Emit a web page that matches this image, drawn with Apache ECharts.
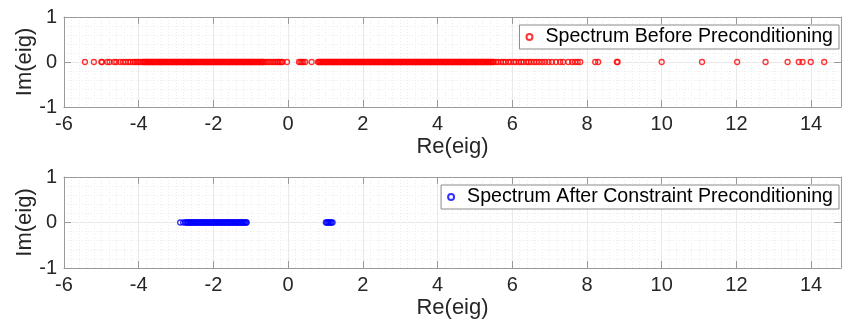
<!DOCTYPE html>
<html>
<head>
<meta charset="utf-8">
<script src="https://cdn.jsdelivr.net/npm/echarts@6/dist/echarts.min.js"></script>
<style>
  html, body { margin: 0; padding: 0; background: #fff; }
  #chart { width: 842px; height: 325px; }
</style>
</head>
<body>
<div id="chart"></div>
<script>
  // eigenvalues (real parts), imaginary parts all 0
  var beforeRe = [
    -5.44, -5.20, -5.00, -4.98, -4.84, -4.78, -4.66, -4.60, -4.50, -4.42, -4.35, -4.28,
    -4.22, -4.15, -4.10, -4.05, -4.00, -3.95,
    -3.900, -3.875, -3.850, -3.825, -3.800, -3.775, -3.750, -3.725, -3.700, -3.675, -3.650, -3.625,
    -3.600, -3.575, -3.550, -3.525, -3.500, -3.475, -3.450, -3.425, -3.400, -3.375, -3.350, -3.325,
    -3.300, -3.275, -3.250, -3.225, -3.200, -3.175, -3.150, -3.125, -3.100, -3.075, -3.050, -3.025,
    -3.000, -2.975, -2.950, -2.925, -2.900, -2.875, -2.850, -2.825, -2.800, -2.775, -2.750, -2.725,
    -2.700, -2.675, -2.650, -2.625, -2.600, -2.575, -2.550, -2.525, -2.500, -2.475, -2.450, -2.425,
    -2.400, -2.375, -2.350, -2.325, -2.300, -2.275, -2.250, -2.225, -2.200, -2.175, -2.150, -2.125,
    -2.100, -2.075, -2.050, -2.025, -2.000, -1.975, -1.950, -1.925, -1.900, -1.875, -1.850, -1.825,
    -1.800, -1.775, -1.750, -1.725, -1.700, -1.675, -1.650, -1.625, -1.600, -1.575, -1.550, -1.525,
    -1.500, -1.475, -1.450, -1.425, -1.400, -1.375, -1.350, -1.325, -1.300, -1.275, -1.250, -1.225,
    -1.200, -1.175, -1.150, -1.125, -1.100, -1.075, -1.050, -1.025, -1.000, -0.975, -0.950, -0.925,
    -0.900, -0.875, -0.850, -0.825, -0.800, -0.775, -0.750, -0.725, -0.700, -0.675,
    -0.65, -0.60, -0.55, -0.50, -0.45, -0.40, -0.35, -0.30, -0.26, -0.22, -0.18, -0.15, -0.03,
    0.29, 0.33, 0.37, 0.41, 0.46, 0.63,
    0.800, 0.825, 0.850, 0.875, 0.900, 0.925, 0.950, 0.975, 1.000, 1.025, 1.050, 1.075,
    1.100, 1.125, 1.150, 1.175, 1.200, 1.225, 1.250, 1.275, 1.300, 1.325, 1.350, 1.375,
    1.400, 1.425, 1.450, 1.475, 1.500, 1.525, 1.550, 1.575, 1.600, 1.625, 1.650, 1.675,
    1.700, 1.725, 1.750, 1.775, 1.800, 1.825, 1.850, 1.875, 1.900, 1.925, 1.950, 1.975,
    2.000, 2.025, 2.050, 2.075, 2.100, 2.125, 2.150, 2.175, 2.200, 2.225, 2.250, 2.275,
    2.300, 2.325, 2.350, 2.375, 2.400, 2.425, 2.450, 2.475, 2.500, 2.525, 2.550, 2.575,
    2.600, 2.625, 2.650, 2.675, 2.700, 2.725, 2.750, 2.775, 2.800, 2.825, 2.850, 2.875,
    2.900, 2.925, 2.950, 2.975, 3.000, 3.025, 3.050, 3.075, 3.100, 3.125, 3.150, 3.175,
    3.200, 3.225, 3.250, 3.275, 3.300, 3.325, 3.350, 3.375, 3.400, 3.425, 3.450, 3.475,
    3.500, 3.525, 3.550, 3.575, 3.600, 3.625, 3.650, 3.675, 3.700, 3.725, 3.750, 3.775,
    3.800, 3.825, 3.850, 3.875, 3.900, 3.925, 3.950, 3.975, 4.000, 4.025, 4.050, 4.075,
    4.100, 4.125, 4.150, 4.175, 4.200, 4.225, 4.250, 4.275, 4.300, 4.325, 4.350, 4.375,
    4.400, 4.425, 4.450, 4.475, 4.500, 4.525, 4.550, 4.575, 4.600, 4.625, 4.650, 4.675,
    4.700, 4.725, 4.750, 4.775, 4.800, 4.825, 4.850, 4.875, 4.900, 4.925, 4.950, 4.975,
    5.000, 5.025, 5.050, 5.075, 5.100, 5.125, 5.150, 5.175, 5.200, 5.225, 5.250, 5.275,
    5.300, 5.325, 5.350, 5.375, 5.400, 5.425, 5.450, 5.475, 5.500,
    5.56, 5.62, 5.70, 5.76, 5.82, 5.90, 5.96, 6.04, 6.10, 6.18, 6.24, 6.30, 6.38, 6.44,
    6.50, 6.58, 6.65, 6.72, 6.80, 6.88, 6.97, 7.06, 7.17, 7.28, 7.36, 7.50, 7.60, 7.68,
    7.75, 7.82, 8.22, 8.30, 8.80, 8.82, 10.00, 11.08, 12.02, 12.78, 13.37, 13.67, 13.77,
    13.99, 14.35
  ];
  var afterRe = [
    -2.89, -2.81,
    -2.750, -2.725, -2.700, -2.675, -2.650, -2.625, -2.600, -2.575, -2.550, -2.525, -2.500, -2.475,
    -2.450, -2.425, -2.400, -2.375, -2.350, -2.325, -2.300, -2.275, -2.250, -2.225, -2.200, -2.175,
    -2.150, -2.125, -2.100, -2.075, -2.050, -2.025, -2.000, -1.975, -1.950, -1.925, -1.900, -1.875,
    -1.850, -1.825, -1.800, -1.775, -1.750, -1.725, -1.700, -1.675, -1.650, -1.625, -1.600, -1.575,
    -1.550, -1.525, -1.500, -1.475, -1.450, -1.425, -1.400, -1.375, -1.350, -1.325, -1.300, -1.275,
    -1.250, -1.225, -1.200, -1.175, -1.150, -1.125, -1.110,
    1.01, 1.035, 1.06, 1.085, 1.11, 1.135, 1.16, 1.19
  ];
  var xTicks = { min: -6, max: 14.8, step: 2 };
  var yTicks = { min: -1, max: 1, step: 1 };
  var names = ['Spectrum Before Preconditioning', 'Spectrum After Constraint Preconditioning'];

  var font = "'Liberation Sans', Arial, Helvetica, sans-serif";
  var boxColor = '#9a9a9a';

  function toPts(arr) {
    return arr.map(function (v) { return [v, 0]; });
  }
  // tick labels are whole numbers
  function intLabel(v) {
    return String(Math.round(v));
  }

  function xAxes(gi) {
    return [{
      type: 'value', gridIndex: gi, position: 'bottom',
      min: xTicks.min, max: xTicks.max, interval: xTicks.step,
      name: 'Re(eig)', nameLocation: 'middle', nameGap: 29, nameMoveOverlap: false,
      nameTextStyle: { fontFamily: font, fontSize: 22, color: '#262626' },
      axisLine: { show: true, onZero: false, lineStyle: { color: boxColor, width: 1 } },
      axisTick: { show: true, inside: true, length: 7, lineStyle: { color: boxColor } },
      axisLabel: { fontFamily: font, fontSize: 20, color: '#262626', margin: 7, showMaxLabel: false, formatter: intLabel },
      splitLine: { show: true, lineStyle: { color: '#e9e9e9', width: 1 } },
      minorTick: { show: false, splitNumber: 10 },
      minorSplitLine: { show: true, lineStyle: { color: '#ececec', type: [1, 2], width: 1 } }
    }, {
      type: 'value', gridIndex: gi, position: 'top',
      min: xTicks.min, max: xTicks.max, interval: xTicks.step,
      axisLine: { show: true, onZero: false, lineStyle: { color: boxColor, width: 1 } },
      axisTick: { show: true, inside: true, length: 7, lineStyle: { color: boxColor } },
      axisLabel: { show: false },
      splitLine: { show: false }
    }];
  }

  function yAxes(gi) {
    return [{
      type: 'value', gridIndex: gi, position: 'left',
      min: yTicks.min, max: yTicks.max, interval: yTicks.step,
      name: 'Im(eig)', nameLocation: 'middle', nameGap: 28, nameMoveOverlap: false,
      nameTextStyle: { fontFamily: font, fontSize: 22, color: '#262626' },
      axisLine: { show: true, onZero: false, lineStyle: { color: boxColor, width: 1 } },
      axisTick: { show: true, inside: true, length: 7, lineStyle: { color: boxColor } },
      axisLabel: { fontFamily: font, fontSize: 20, color: '#262626', margin: 7, formatter: intLabel },
      splitLine: { show: true, lineStyle: { color: '#e9e9e9', width: 1 } },
      minorTick: { show: false, splitNumber: 5 },
      minorSplitLine: { show: true, lineStyle: { color: '#ececec', type: [1, 2], width: 1 } }
    }, {
      type: 'value', gridIndex: gi, position: 'right',
      min: yTicks.min, max: yTicks.max, interval: yTicks.step,
      axisLine: { show: true, onZero: false, lineStyle: { color: boxColor, width: 1 } },
      axisTick: { show: true, inside: true, length: 7, lineStyle: { color: boxColor } },
      axisLabel: { show: false },
      splitLine: { show: false }
    }];
  }

  function legendFor(name, top) {
    return {
      data: [name], top: top, right: 3, orient: 'horizontal',
      padding: [2, 6, 2, 6],
      itemWidth: 22, itemHeight: 6,
      borderColor: '#8a8a8a', borderWidth: 1, borderRadius: 0,
      backgroundColor: '#fff',
      textStyle: { fontFamily: font, fontSize: 19.6, lineHeight: 19, color: '#000' }
    };
  }

  var chart = echarts.init(document.getElementById('chart'), null, { renderer: 'canvas' });
  chart.setOption({
    animation: false,
    backgroundColor: '#fff',
    grid: [
      { left: 64, right: 1, top: 17, height: 90, outerBoundsMode: 'none' },
      { left: 64, right: 1, top: 177, height: 91, outerBoundsMode: 'none' }
    ],
    xAxis: xAxes(0).concat(xAxes(1)),
    yAxis: yAxes(0).concat(yAxes(1)),
    legend: [legendFor(names[0], 25), legendFor(names[1], 185)],
    series: [{
      name: names[0], type: 'scatter', xAxisIndex: 0, yAxisIndex: 0,
      symbol: 'circle', symbolSize: 5,
      itemStyle: { color: 'transparent', borderColor: '#ff0000', borderWidth: 1.3 },
      data: toPts(beforeRe)
    }, {
      name: names[1], type: 'scatter', xAxisIndex: 2, yAxisIndex: 2,
      symbol: 'circle', symbolSize: 5,
      itemStyle: { color: 'transparent', borderColor: '#0000ff', borderWidth: 1.3 },
      data: toPts(afterRe)
    }]
  });
</script>
</body>
</html>
